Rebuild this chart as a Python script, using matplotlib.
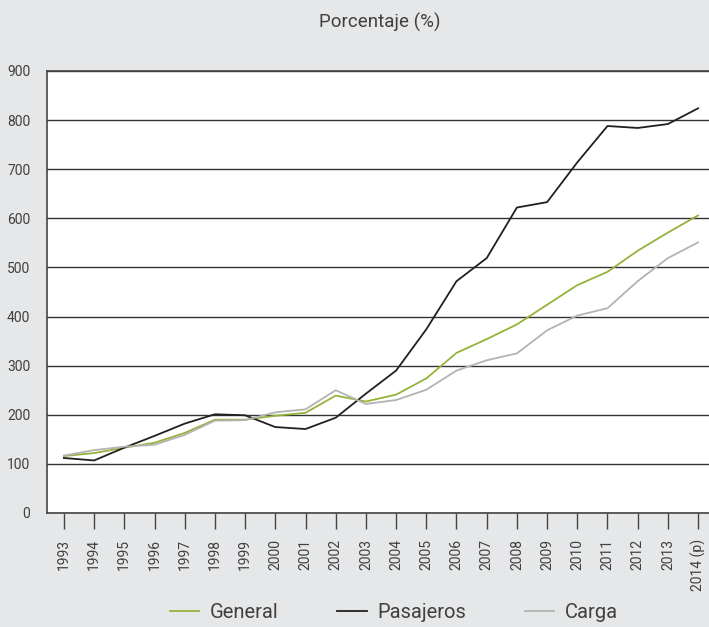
import matplotlib
matplotlib.use("Agg")
import matplotlib.pyplot as plt

years = list(range(1993, 2015))
year_labels = [str(y) for y in years[:-1]] + ["2014 (p)"]
general = [116, 122, 133, 143, 163, 190, 190, 198, 204, 239, 227, 241, 274, 326, 354, 384, 424, 464, 491, 534, 571, 606]
pasajeros = [112, 107, 133, 157, 182, 201, 199, 175, 171, 194, 243, 290, 374, 472, 519, 622, 633, 714, 788, 784, 792, 824]
carga = [117, 128, 135, 139, 159, 188, 189, 205, 211, 250, 222, 230, 251, 290, 311, 325, 372, 402, 417, 472, 519, 551]
yticks = list(range(0, 1000, 100))

plt.rcParams['font.family'] = ['Roboto', 'DejaVu Sans']
txt = '#404040'
fw = 'normal'
bg = '#e6e7e8'
fig = plt.figure(figsize=(7.09, 6.27), dpi=100, facecolor=bg)
ax = fig.add_axes([47/709, 1-513/627, (715-47)/709, (513-71)/627])
ax.set_facecolor('white')

ax.plot(years, general, color='#95b33a', lw=1.3, label='General', zorder=3)
ax.plot(years, pasajeros, color='#231f20', lw=1.3, label='Pasajeros', zorder=3)
ax.plot(years, carga, color='#b3b3b3', lw=1.3, label='Carga', zorder=3)

ax.set_xlim(1992.44, 2014.56)
ax.set_ylim(0, 900)
ax.set_yticks(yticks)
ax.set_yticklabels([str(v) for v in yticks], fontsize=10, color=txt, fontweight=fw)
ax.set_xticks(years)
ax.set_xticklabels(year_labels, rotation=90, fontsize=10, color=txt, fontweight=fw)
ax.tick_params(axis='y', length=0, pad=12)
ax.tick_params(axis='x', length=11.5, width=1, color='#444444', pad=7, direction='out')
ax.grid(axis='y', color='#333333', lw=1)
ax.set_axisbelow(True)
for s in ['left', 'top', 'bottom', 'right']:
    ax.spines[s].set_color('#444444')
    ax.spines[s].set_linewidth(1.2)

fig.text(380/709, 1-22/627, 'Porcentaje (%)', ha='center', va='center', fontsize=13.5, color=txt, fontweight=fw)

leg = fig.legend(loc='center', bbox_to_anchor=(394/709, 1-613/627), ncol=3, frameon=False,
                 fontsize=14.5, handlelength=1.45, columnspacing=2.9, handletextpad=0.55)
for t in leg.get_texts():
    t.set_color(txt)
    t.set_fontweight(fw)

fig.savefig('out.png', dpi=100, facecolor=bg)
